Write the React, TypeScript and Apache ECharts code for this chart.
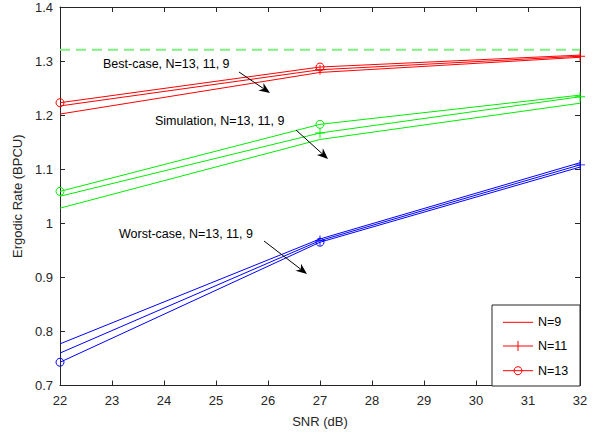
import React, { useEffect, useRef } from "react";
import * as echarts from "echarts";

const snr = [22, 27, 32];
const bestN13 = [1.223, 1.289, 1.311];
const bestN11 = [1.217, 1.284, 1.309];
const bestN9 = [1.202, 1.279, 1.307];
const simN13 = [1.059, 1.183, 1.237];
const simN11 = [1.05, 1.167, 1.234];
const simN9 = [1.028, 1.155, 1.222];
const worstN9 = [0.777, 0.971, 1.112];
const worstN11 = [0.76, 0.968, 1.108];
const worstN13 = [0.743, 0.965, 1.104];
const upperBound = 1.321;
const xTicks = [22, 23, 24, 25, 26, 27, 28, 29, 30, 31, 32];
const yTicks = [0.7, 0.8, 0.9, 1, 1.1, 1.2, 1.3, 1.4];
const legendNames = ["N=9", "N=11", "N=13"];

const FONT = "Arial, 'Liberation Sans', Helvetica, sans-serif";
const AXIS_COLOR = "#262626";
const RED = "#ff0000";
const PLUS = "path://M-0.09,-1 L0.09,-1 L0.09,-0.09 L1,-0.09 L1,0.09 L0.09,0.09 L0.09,1 L-0.09,1 L-0.09,0.09 L-1,0.09 L-1,-0.09 L-0.09,-0.09 Z";

type Kind = "none" | "plus" | "circle";

function makeSeries(name: string, values: number[], color: string, kind: Kind) {
  const data = values.map((v, i) => {
    const item: any = { value: [snr[i], v] };
    if (kind === "circle") item.symbol = i < 2 ? "circle" : "none";
    if (kind === "plus") item.symbol = i > 0 ? PLUS : "none";
    if (kind === "none") item.symbol = "none";
    return item;
  });
  const s: any = {
    type: "line",
    name,
    data,
    color,
    symbol: kind === "circle" ? "circle" : kind === "plus" ? PLUS : "none",
    symbolSize: kind === "circle" ? 8 : 10,
    lineStyle: { color, width: 1 },
    z: 3,
  };
  if (kind === "circle") {
    s.itemStyle = { color: "rgba(0,0,0,0)", borderColor: color, borderWidth: 1 };
  } else {
    s.itemStyle = { color, borderWidth: 0 };
  }
  return s;
}

function arrow(x1: number, y1: number, x2: number, y2: number) {
  const L = 11;
  const W = 4.5;
  const dx = x2 - x1;
  const dy = y2 - y1;
  const len = Math.sqrt(dx * dx + dy * dy);
  const ux = dx / len;
  const uy = dy / len;
  const px = -uy;
  const py = ux;
  const bx = x2 - ux * L;
  const by = y2 - uy * L;
  const ix = x2 - ux * L * 0.7;
  const iy = y2 - uy * L * 0.7;
  return [
    {
      type: "line",
      shape: { x1, y1, x2: ix, y2: iy },
      style: { stroke: "#000", lineWidth: 1 },
      z: 10,
    },
    {
      type: "polygon",
      shape: {
        points: [
          [x2, y2],
          [bx + px * W, by + py * W],
          [ix, iy],
          [bx - px * W, by - py * W],
        ],
      },
      style: { fill: "#000" },
      z: 10,
    },
  ];
}

function label(text: string, x: number, y: number) {
  return {
    type: "text",
    x,
    y,
    style: {
      text,
      font: `12.5px ${FONT}`,
      fill: "#000",
      textVerticalAlign: "middle",
      textAlign: "left",
    },
    z: 10,
  };
}

function legendBox() {
  const x0 = 492;
  const y0 = 305;
  const w = 88;
  const h = 81;
  const rows = [322.3, 346, 370.7];
  const els: any[] = [
    {
      type: "rect",
      shape: { x: x0, y: y0, width: w, height: h },
      style: { fill: "#fff", stroke: AXIS_COLOR, lineWidth: 1 },
      z: 20,
    },
  ];
  legendNames.forEach((n, i) => {
    const y = rows[i];
    els.push({
      type: "line",
      shape: { x1: 503, y1: y, x2: 533, y2: y },
      style: { stroke: RED, lineWidth: 1 },
      z: 21,
    });
    if (i === 1) {
      els.push({
        type: "line",
        shape: { x1: 518, y1: y - 5, x2: 518, y2: y + 5 },
        style: { stroke: RED, lineWidth: 1 },
        z: 21,
      });
    }
    if (i === 2) {
      els.push({
        type: "circle",
        shape: { cx: 518, cy: y, r: 4 },
        style: { fill: "rgba(0,0,0,0)", stroke: RED, lineWidth: 1 },
        z: 21,
      });
    }
    els.push({
      type: "text",
      x: 538,
      y,
      style: {
        text: n,
        font: `12.5px ${FONT}`,
        fill: "#000",
        textVerticalAlign: "middle",
        textAlign: "left",
      },
      z: 21,
    });
  });
  return els;
}

export default function App() {
  const ref = useRef<HTMLDivElement>(null);
  useEffect(() => {
    if (!ref.current) return;
    const chart = echarts.init(ref.current, undefined, { renderer: "svg" });
    const axisCommon = {
      axisLine: { show: true, onZero: false, lineStyle: { color: AXIS_COLOR, width: 1 } },
      axisTick: { show: true, inside: true, length: 5, lineStyle: { color: AXIS_COLOR } },
      splitLine: { show: false },
    };
    const series: any[] = [
      makeSeries("N=9", bestN9, RED, "none"),
      makeSeries("N=11", bestN11, RED, "plus"),
      makeSeries("N=13", bestN13, RED, "circle"),
      makeSeries("sim N=9", simN9, "#00ee00", "none"),
      makeSeries("sim N=11", simN11, "#00ee00", "plus"),
      makeSeries("sim N=13", simN13, "#00ee00", "circle"),
      makeSeries("worst N=9", worstN9, "#0000ff", "none"),
      makeSeries("worst N=11", worstN11, "#0000ff", "plus"),
      makeSeries("worst N=13", worstN13, "#0000ff", "circle"),
      {
        type: "line",
        name: "bound",
        data: [
          [snr[0], upperBound],
          [snr[snr.length - 1], upperBound],
        ],
        symbol: "none",
        lineStyle: { color: "#80f080", width: 2, type: [10, 6] },
        z: 2,
      },
    ];
    chart.setOption({
      animation: false,
      backgroundColor: "#ffffff",
      textStyle: { fontFamily: FONT },
      grid: { left: 60, top: 7, width: 520, height: 378.5, containLabel: false },
      xAxis: [
        {
          type: "value",
          min: 22,
          max: 32,
          interval: 1,
          name: "SNR (dB)",
          nameLocation: "middle",
          nameGap: 29,
          nameTextStyle: { fontSize: 13, color: AXIS_COLOR, fontFamily: FONT },
          axisLabel: { fontSize: 13, color: AXIS_COLOR, margin: 8, fontFamily: FONT },
          ...axisCommon,
        },
        {
          type: "value",
          position: "top",
          min: 22,
          max: 32,
          interval: 1,
          axisLabel: { show: false },
          ...axisCommon,
        },
      ],
      yAxis: [
        {
          type: "value",
          min: 0.7,
          max: 1.4,
          interval: 0.1,
          name: "Ergodic Rate (BPCU)",
          nameLocation: "middle",
          nameGap: 33,
          nameTextStyle: { fontSize: 13, color: AXIS_COLOR, fontFamily: FONT },
          axisLabel: {
            fontSize: 13,
            color: AXIS_COLOR,
            margin: 7,
            fontFamily: FONT,
            formatter: (v: number) => String(Math.round(v * 10) / 10),
          },
          ...axisCommon,
        },
        {
          type: "value",
          position: "right",
          min: 0.7,
          max: 1.4,
          interval: 0.1,
          axisLabel: { show: false },
          ...axisCommon,
        },
      ],
      series,
      graphic: [
        label("Best-case, N=13, 11, 9", 103, 64),
        ...arrow(239, 72, 270, 93),
        label("Simulation, N=13, 11, 9", 155, 121),
        ...arrow(296, 130, 328, 159),
        label("Worst-case, N=13, 11, 9", 119, 234),
        ...arrow(264, 241, 307, 274),
        ...legendBox(),
      ],
    });
    return () => chart.dispose();
  }, []);
  return (
    <div
      ref={ref}
      style={{ position: "fixed", left: 0, top: 0, width: 600, height: 435, background: "#fff" }}
    />
  );
}
